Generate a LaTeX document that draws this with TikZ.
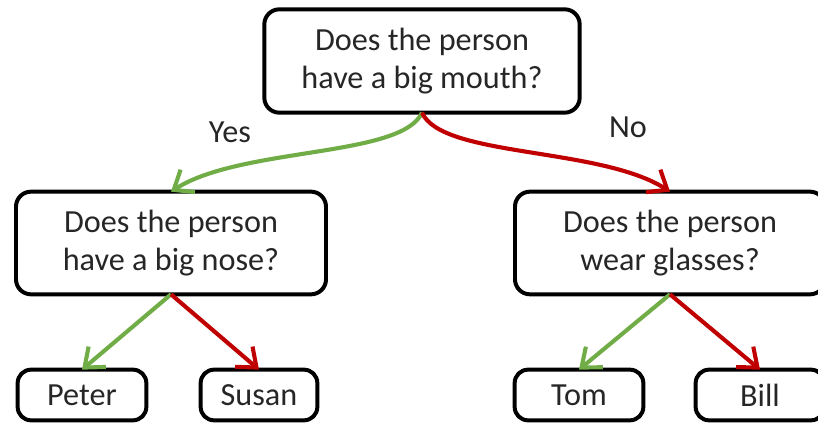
\documentclass[tikz,border=0pt]{standalone}
\usepackage{fontspec}
\setmainfont{Carlito}
\usetikzlibrary{arrows.meta}
\definecolor{yesgreen}{RGB}{112,173,71}
\definecolor{nored}{RGB}{192,0,0}

\begin{document}
\begin{tikzpicture}[x=0.3mm, y=-0.3mm,
  every node/.style={align=center, inner sep=0pt, outer sep=0pt, text=black!85, font=\fontsize{27.5}{32}\selectfont},
  question/.style={draw=black, line width=3.4pt, rounded corners=4.5mm, minimum width=93mm, minimum height=30.8mm},
  answer/.style={draw=black, line width=3.4pt, rounded corners=4mm, minimum width=38.6mm, minimum height=15.2mm},
  yes/.style={draw=yesgreen, line width=3.5pt, -{Straight Barb[length=5mm, width=8mm]}},
  no/.style={draw=nored, line width=3.5pt, -{Straight Barb[length=5mm, width=8mm]}}]
\useasboundingbox (0,0) rectangle (818,425);

\node[question, minimum width=94.6mm, minimum height=31mm] (mouth) at (422,61) {Does the person\\have a big mouth?};
\node[question] (nose) at (171,243) {Does the person\\have a big nose?};
\node[question] (glasses) at (670,243) {Does the person\\wear glasses?};

\node[answer] (peter) at (82,395) {Peter};
\node[answer, minimum width=35mm] (susan) at (259,395) {Susan};
\node[answer] (tom) at (579,395) {Tom};
\node[answer] (bill) at (760,395) {Bill};

\node (yeslabel) at (230,132) {Yes};
\node (nolabel) at (628,127) {No};

\draw[yes] (mouth.south) .. controls +(-20,45) and +(70,-45) .. (nose.north);
\draw[no] (mouth.south) .. controls +(20,45) and +(-70,-45) .. (glasses.north);

\draw[yes] (nose.south) -- (peter.north);
\draw[no] (nose.south) -- (susan.north);
\draw[yes] (glasses.south) -- (tom.north);
\draw[no] (glasses.south) -- (bill.north);
\end{tikzpicture}
\end{document}
